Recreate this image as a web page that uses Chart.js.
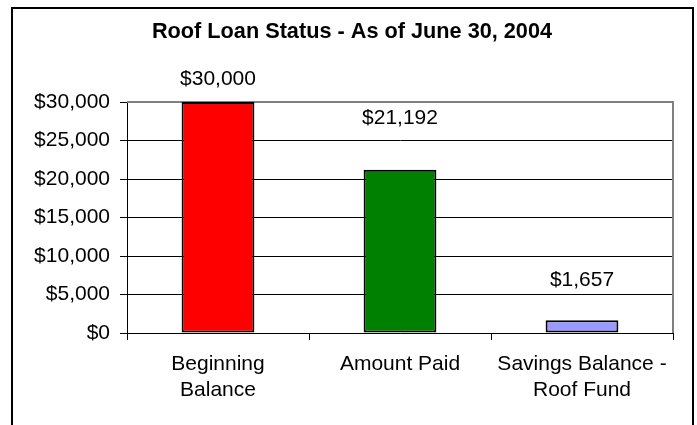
<!DOCTYPE html>
<html>
<head>
<meta charset="utf-8">
<script src="https://cdn.jsdelivr.net/npm/chart.js@4.4.1/dist/chart.umd.min.js"></script>
<style>
  html, body { margin: 0; padding: 0; background: #fff; overflow: hidden; }
  #wrap { position: relative; width: 697px; height: 425px; }
  #frame {
    position: absolute; left: 11px; top: 7px; width: 679px; height: 500px;
    border: 2px solid #000; pointer-events: none;
  }
</style>
</head>
<body>
<div id="wrap">
  <canvas id="chart" width="697" height="425"></canvas>
  <div id="frame"></div>
</div>
<script>
// data
const categories = [['Beginning', 'Balance'], 'Amount Paid', ['Savings Balance -', 'Roof Fund']];
const amounts = [30000, 21192, 1657];
const barColors = ['#ff0000', '#008000', '#9999ff'];
const tickValues = [0, 5000, 10000, 15000, 20000, 25000, 30000];

const FONT = "'Liberation Sans', Arial, sans-serif";

function money(v) {
    return '$' + Number(v).toLocaleString('en-US');
}

// value labels sit above each bar (they were moved by hand in the original)
const labelLift = [23, 52, 40];
const valueLabels = {
    id: 'valueLabels',
    afterDatasetsDraw(chart) {
        const ctx = chart.ctx;
        const meta = chart.getDatasetMeta(0);
        ctx.save();
        ctx.font = '21px ' + FONT;
        ctx.fillStyle = '#000';
        ctx.textAlign = 'center';
        ctx.textBaseline = 'middle';
        meta.data.forEach((bar, i) => {
            ctx.fillText(money(amounts[i]), bar.x, bar.y - labelLift[i]);
        });
        ctx.restore();
    }
};

// gray plot-area border on the right and top, like Excel
const plotBorder = {
    id: 'plotBorder',
    beforeDatasetsDraw(chart) {
        const a = chart.chartArea;
        const ctx = chart.ctx;
        ctx.save();
        ctx.strokeStyle = '#808080';
        ctx.lineWidth = 2;
        ctx.beginPath();
        ctx.moveTo(a.left, a.top);
        ctx.lineTo(a.right, a.top);
        ctx.lineTo(a.right, a.bottom);
        ctx.stroke();
        ctx.restore();
    }
};

const ctx = document.getElementById('chart').getContext('2d');
new Chart(ctx, {
    type: 'bar',
    data: {
        labels: categories,
        datasets: [{
            data: amounts,
            backgroundColor: barColors,
            borderColor: '#000',
            borderWidth: 2,
            borderSkipped: false,
            categoryPercentage: 1,
            barPercentage: 0.4
        }]
    },
    options: {
        responsive: false,
        animation: false,
        layout: { padding: { left: 31, right: 24, top: 0, bottom: 0 } },
        plugins: {
            legend: { display: false },
            tooltip: { enabled: false },
            title: {
                display: true,
                text: 'Roof Loan Status - As of June 30, 2004',
                color: '#000',
                font: { family: FONT, size: 21.7, weight: 'bold', lineHeight: 1.2 },
                padding: { top: 19, bottom: 57 }
            }
        },
        scales: {
            x: {
                grid: {
                    offset: true,
                    drawOnChartArea: false,
                    tickLength: 7,
                    color: '#000'
                },
                border: { color: '#000', width: 1 },
                ticks: {
                    color: '#000',
                    padding: 11,
                    maxRotation: 0,
                    font: { family: FONT, size: 21, lineHeight: 1.24 }
                },
                afterFit(scale) { scale.height = 92; }
            },
            y: {
                min: 0,
                max: 30000,
                afterBuildTicks(scale) {
                    scale.ticks = tickValues.map(v => ({ value: v }));
                },
                grid: {
                    color: '#000',
                    tickLength: 7
                },
                border: { color: '#000', width: 1 },
                ticks: {
                    color: '#000',
                    padding: 10,
                    font: { family: FONT, size: 21 },
                    callback: v => money(v)
                },
                afterFit(scale) { scale.width = 96; }
            }
        }
    },
    plugins: [plotBorder, valueLabels]
});
</script>
</body>
</html>
